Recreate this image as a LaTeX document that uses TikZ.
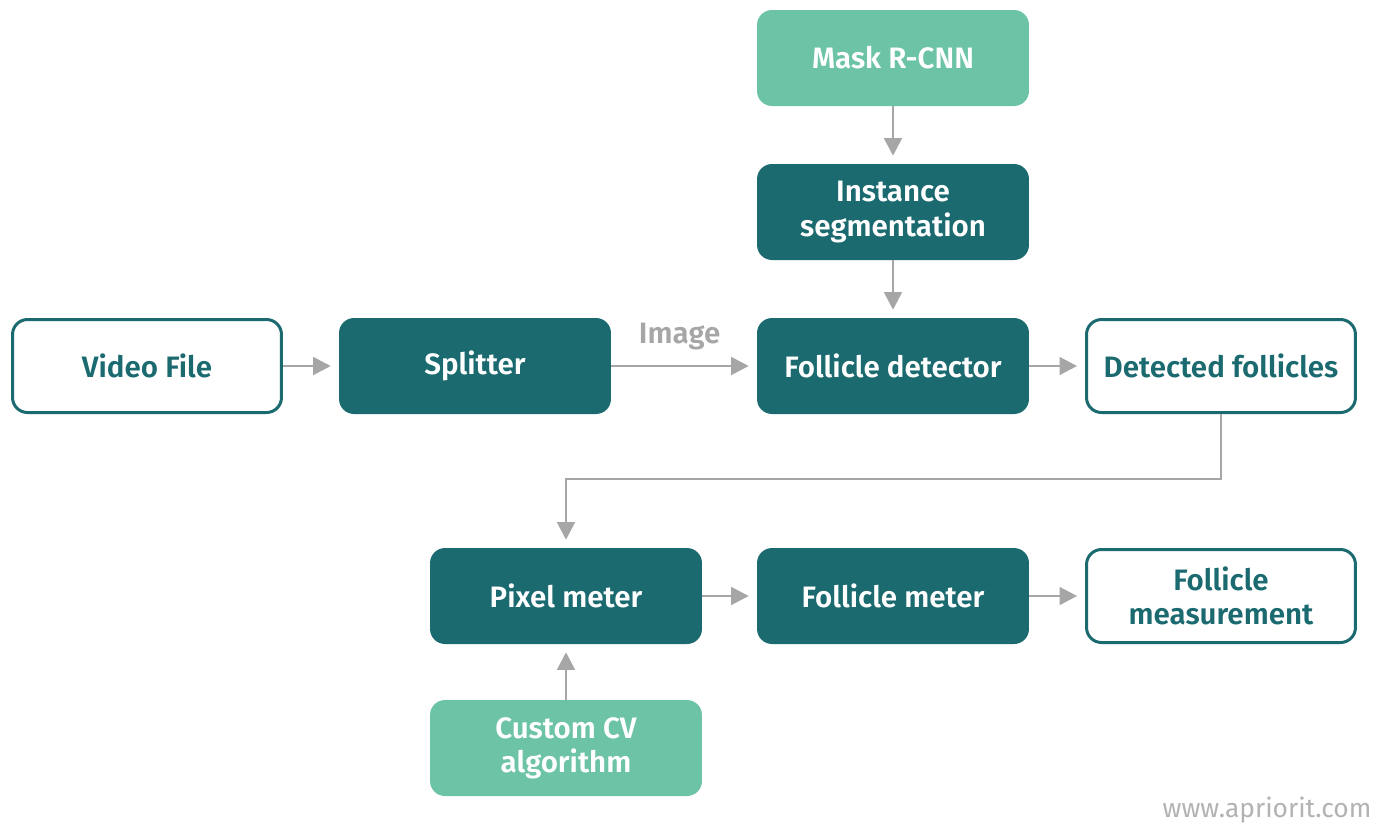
\documentclass[tikz,border=0pt]{standalone}
\usepackage{fontspec}
\setmainfont{Fira Sans}[BoldFont={Fira Sans SemiBold}]
\usetikzlibrary{arrows.meta}
\definecolor{teal}{HTML}{1B6A70}
\definecolor{mint}{HTML}{6CC3A6}
\definecolor{arrowgray}{HTML}{A6A6A6}
\tikzset{
  every picture/.style={
    >={Triangle[width=10pt, length=10pt]}
  },
  block/.style={
    rounded corners=0.3cm, minimum width=5.44cm, minimum height=1.92cm,
    align=center, font=\fontsize{16.8}{19.5}\selectfont\bfseries, inner sep=0pt
  }
}
\begin{document}
\begin{tikzpicture}[
    x=0.02cm, y=-0.02cm,
    dark/.style={block, fill=teal, text=white},
    light/.style={block, fill=mint, text=white},
    plain/.style={block, draw=teal, line width=1.7pt, fill=white, text=teal,
      minimum width=5.44cm-1.7pt, minimum height=1.92cm-1.7pt},
    flow/.style={->, draw=arrowgray, line width=1.6pt, shorten >=4.5pt}
  ]
  \useasboundingbox (0,0) rectangle (1377,823);
  % top column
  \node [light] (mask) at (893,58) {Mask R-CNN};
  \node [dark] (inst) at (893,212) {Instance\\segmentation};
  % main row
  \node [plain] (video) at (147,366) {Video File};
  \node [dark] (split) at (475,366) {Splitter};
  \node [dark] (detector) at (893,366) {Follicle detector};
  \node [plain] (detected) at (1221,366) {Detected follicles};
  % measuring row
  \node [dark] (pixel) at (566,596) {Pixel meter};
  \node [dark] (fmeter) at (893,596) {Follicle meter};
  \node [plain] (measure) at (1221,596) {Follicle\\measurement};
  \node [light] (custom) at (566,748) {Custom CV\\algorithm};

  \draw [flow] (mask) -- (inst);
  \draw [flow] (inst) -- (detector);
  \draw [flow] (video) -- (split);
  \draw [flow] (split) -- (detector) node [pos=0.47, above=5pt, text=arrowgray,
    font=\fontsize{16.8}{19.5}\selectfont\bfseries] (imglabel) {Image};
  \draw [flow] (detector) -- (detected);
  \draw [flow] (detected.south) -- ++(0,65) -| (pixel.north);
  \draw [flow] (pixel) -- (fmeter);
  \draw [flow] (fmeter) -- (measure);
  \draw [flow] (custom) -- (pixel);

  \node [text=black!30, font=\fontsize{15}{17}\selectfont] (web) at (1267,810) {www.apriorit.com};
\end{tikzpicture}
\end{document}
